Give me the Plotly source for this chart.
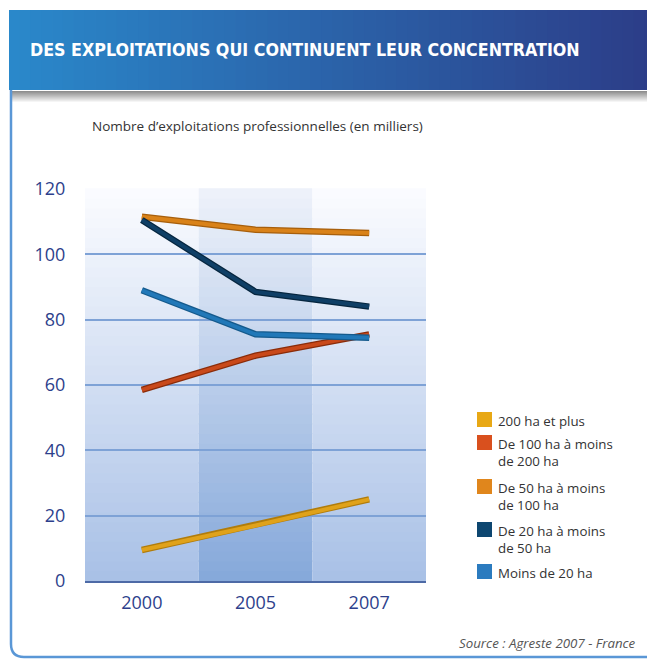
import plotly.graph_objects as go

# Data (thousands of farms)
years = ["2000", "2005", "2007"]
series_names = [
    "200 ha et plus",
    "De 100 ha à moins<br>de 200 ha",
    "De 50 ha à moins<br>de 100 ha",
    "De 20 ha à moins<br>de 50 ha",
    "Moins de 20 ha",
]
v_200_plus = [9.5, 17.0, 25.0]
v_100_200 = [58.5, 69.0, 75.5]
v_50_100 = [111.5, 107.5, 106.5]
v_20_50 = [110.5, 88.5, 84.0]
v_moins_20 = [89.0, 75.5, 74.5]
series_values = [v_200_plus, v_100_200, v_50_100, v_20_50, v_moins_20]

line_colors = ["#e0a21a", "#c9491a", "#d98219", "#0f3f66", "#2178b8"]
edge_colors = ["#b07c0c", "#8a2c0a", "#a75f0c", "#06263f", "#155a8c"]
legend_colors = ["#e8a815", "#d9501e", "#e0861c", "#0d4670", "#2b7bbf"]

W, H = 655, 659
OFF = 8  # page body margin
L, R, T, B = 85, 426, 189, 581  # plot area in window pixels


def px(x):
    return (x - L) / (R - L)


def py(y):
    return (B - y) / (B - T)


def lerp(c1, c2, t):
    a = [int(c1[i:i + 2], 16) for i in (1, 3, 5)]
    b = [int(c2[i:i + 2], 16) for i in (1, 3, 5)]
    return "rgb(%d,%d,%d)" % tuple(round(a[k] + (b[k] - a[k]) * t) for k in range(3))


fig = go.Figure()

# lines: darker edge underneath, main colour on top
for name, vals, lc, ec in zip(series_names, series_values, line_colors, edge_colors):
    fig.add_trace(go.Scatter(x=years, y=vals, mode="lines", showlegend=False,
                             line=dict(color=ec, width=6.5), hoverinfo="skip"))
    fig.add_trace(go.Scatter(x=years, y=vals, mode="lines", showlegend=False,
                             line=dict(color=lc, width=4), name=name.replace("<br>", " ")))

shapes = []
# plot background gradient, three vertical bands (middle darker)
n = 40
for i in range(n):
    t0, t1 = i / n, (i + 1) / n
    side = lerp("#fbfcff", "#a8c0e6", 1 - (t0 + t1) / 2)
    mid = lerp("#eef2fa", "#85a8da", 1 - (t0 + t1) / 2)
    for k, col in enumerate([side, mid, side]):
        shapes.append(dict(type="rect", xref="paper", yref="paper", layer="below",
                           x0=k / 3, x1=(k + 1) / 3, y0=t0, y1=t1 + 0.002,
                           fillcolor=col, line=dict(width=0)))

# header banner gradient
m = 60
x_start, x_end = 9, 655
for i in range(m):
    xa = x_start + (x_end - x_start) * i / m
    xb = x_start + (x_end - x_start) * (i + 1) / m + 0.8
    shapes.append(dict(type="rect", xref="paper", yref="paper",
                       x0=px(xa), x1=px(xb), y0=py(90), y1=py(10),
                       fillcolor=lerp("#2a88ca", "#2c3d88", i / (m - 1)), line=dict(width=0)))
# shadow under banner
for i in range(12):
    shapes.append(dict(type="rect", xref="paper", yref="paper",
                       x0=px(12), x1=px(655), y0=py(91 + i + 1), y1=py(91 + i),
                       fillcolor=lerp("#8e8e8e", "#ffffff", i / 11), line=dict(width=0)))
# left / bottom frame
shapes.append(dict(type="path", xref="paper", yref="paper",
                   path="M %f,%f L %f,%f Q %f,%f %f,%f L %f,%f" % (
                       px(11), py(90), px(11), py(644), px(11), py(657),
                       px(24), py(657), px(655), py(657)),
                   line=dict(color="#5a97d6", width=2.5)))

annotations = [
    dict(text="<b>DES EXPLOITATIONS QUI CONTINUENT LEUR CONCENTRATION</b>",
         xref="paper", yref="paper", x=px(28), y=py(50), xanchor="left", yanchor="middle",
         showarrow=False, font=dict(family="DejaVu Sans Condensed", size=17.7, color="white")),
    dict(text="Nombre d’exploitations professionnelles (en milliers)",
         xref="paper", yref="paper", x=px(90), y=py(126), xanchor="left", yanchor="middle",
         showarrow=False, font=dict(family="Open Sans", size=13.5, color="#333333")),
    dict(text="<i>Source : Agreste 2007 - France</i>",
         xref="paper", yref="paper", x=px(638), y=py(643), xanchor="right", yanchor="middle",
         showarrow=False, font=dict(family="Open Sans", size=13.3, color="#555555")),
]

# legend drawn by hand: square + label, top of each entry in window pixels
legend_tops = [412, 435, 479, 522, 564]
for name, c, top in zip(series_names, legend_colors, legend_tops):
    shapes.append(dict(type="rect", xref="paper", yref="paper",
                       x0=px(477), x1=px(492), y0=py(top + 15), y1=py(top),
                       fillcolor=c, line=dict(width=0)))
    annotations.append(dict(text=name, xref="paper", yref="paper", x=px(496), y=py(top - 2),
                            xanchor="left", yanchor="top", align="left", showarrow=False,
                            font=dict(family="Open Sans", size=13.3, color="#333333")))

fig.update_layout(
    width=W - OFF, height=H - OFF,
    margin=dict(l=L - OFF, r=W - R, t=T - OFF, b=H - B, pad=0),
    paper_bgcolor="white", plot_bgcolor="rgba(0,0,0,0)",
    shapes=shapes, annotations=annotations,
    showlegend=False,
    font=dict(family="Open Sans"),
)
fig.update_xaxes(type="category", range=[-0.5, 2.5], showgrid=False,
                 showline=True, linecolor="#4d6aa6", linewidth=1.5,
                 ticks="outside", ticklen=5, tickcolor="rgba(0,0,0,0)",
                 tickfont=dict(size=18, color="#2d3f8c"))
fig.update_yaxes(range=[0, 120], tickvals=[0, 20, 40, 60, 80, 100, 120],
                 showgrid=True, gridcolor="#7ea2d6", gridwidth=1.5, zeroline=False,
                 ticks="outside", ticklen=15, tickcolor="rgba(0,0,0,0)",
                 tickfont=dict(size=18, color="#2d3f8c"))

fig.write_html("out.html")
